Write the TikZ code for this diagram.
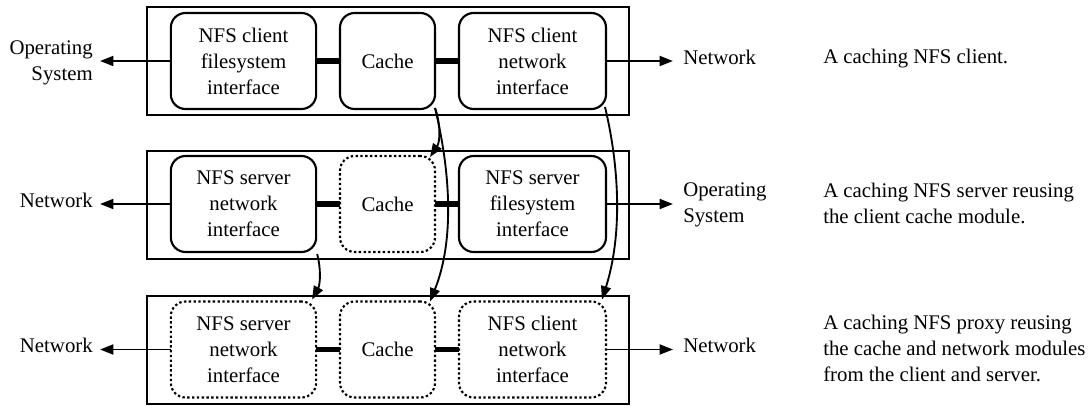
\documentclass[tikz,border=0pt]{standalone}
\usepackage{fontspec}
\setmainfont{Liberation Serif}
\usetikzlibrary{arrows.meta}

\begin{document}
\begin{tikzpicture}[x=0.75pt,y=-0.75pt,
  every node/.style={font=\fontsize{15.6}{19.5}\selectfont},
  frame/.style={draw, line width=1.5pt, minimum width=361.5pt, minimum height=81pt, inner sep=0pt, outer sep=0pt},
  module/.style={draw, line width=1.6pt, rounded corners=11pt, align=center, inner sep=0pt, outer sep=0pt, minimum height=72pt},
  reused/.style={module, dash pattern=on 1.8pt off 1.8pt},
  wide/.style={minimum width=109pt},
  narrow/.style={minimum width=71.25pt},
  glue/.style={line width=3.8pt},
  arr/.style={line width=1.4pt, -{Triangle[length=10pt,width=7.5pt]}},
  side/.style={inner sep=0pt},
  note/.style={align=left, anchor=west, inner sep=0pt}
]
\useasboundingbox (0,0) rectangle (1091,406);

% ends of the outward arrows
\coordinate (tl1) at (100,61);  \coordinate (tr1) at (673,61);
\coordinate (tl2) at (100,204); \coordinate (tr2) at (673,204);
\coordinate (tl3) at (100,349.5); \coordinate (tr3) at (673,349.5);

% ---- caching client ----
\node[frame] (f1) at (388,61) {};
\node[module, wide]   (a1) at (243.5,61) {NFS client\\filesystem\\interface};
\node[module, narrow] (b1) at (387.5,61) {Cache};
\node[module, wide, minimum width=110.25pt] (c1) at (532.5,61) {NFS client\\network\\interface};
\draw[glue] (a1.east) -- (b1.west);
\draw[glue] (b1.east) -- (c1.west);
\node[side, align=right, anchor=east] (l1) at (93,63) {Operating\\System};
\node[side, anchor=west] (r1) at (683,57) {Network};
\node[note] (d1) at (823,59) {A caching NFS client.};
\draw[arr] (a1.west) -- (tl1);
\draw[arr] (c1.east) -- (tr1);

% ---- caching server ----
\node[frame] (f2) at (388,205) {};
\node[module, wide]   (a2) at (243.5,204) {NFS server\\network\\interface};
\node[reused, narrow] (b2) at (387.5,204) {Cache};
\node[module, wide, minimum width=110.25pt] (c2) at (532.5,204) {NFS server\\filesystem\\interface};
\draw[glue] (a2.east) -- (b2.west);
\draw[glue] (b2.east) -- (c2.west);
\node[side, anchor=east] (l2) at (93,200) {Network};
\node[side, align=left, anchor=west] (r2) at (683,205) {Operating\\System};
\node[note] (d2) at (823,203) {A caching NFS server reusing\\the client cache module.};
\draw[arr] (a2.west) -- (tl2);
\draw[arr] (c2.east) -- (tr2);

% ---- caching proxy ----
\node[frame] (f3) at (388,350) {};
\node[reused, wide]   (a3) at (243.5,349.5) {NFS server\\network\\interface};
\node[reused, narrow] (b3) at (387.5,349.5) {Cache};
\node[reused, wide, minimum width=110.25pt] (c3) at (532.5,349.5) {NFS client\\network\\interface};
\draw[glue] (a3.east) -- (b3.west);
\draw[glue] (b3.east) -- (c3.west);
\node[side, anchor=east] (l3) at (93,345) {Network};
\node[side, anchor=west] (r3) at (683,345) {Network};
\node[note] (d3) at (823,348) {A caching NFS proxy reusing\\the cache and network modules\\from the client and server.};
\draw[arr] (a3.west) -- (tl3);
\draw[arr] (c3.east) -- (tr3);

% ---- module reuse ----
\draw[arr] ([shift={(0,-1)}]b1.south east) .. controls +(6,17) and +(10,-15) .. ([shift={(-5,1)}]b2.north east);
\draw[arr] ([shift={(0,-1)}]b1.south east) .. controls +(15,62) and +(25,-62) .. ([shift={(-5,0)}]b3.north east);
\draw[arr] ([shift={(-1,-2)}]c1.south east) .. controls +(15,63) and +(20,-63) .. ([shift={(-4,-2)}]c3.north east);
\draw[arr] ([shift={(1,2)}]a2.south east) .. controls +(4,15) and +(8,-15) .. ([shift={(-4,-2)}]a3.north east);
\end{tikzpicture}
\end{document}
